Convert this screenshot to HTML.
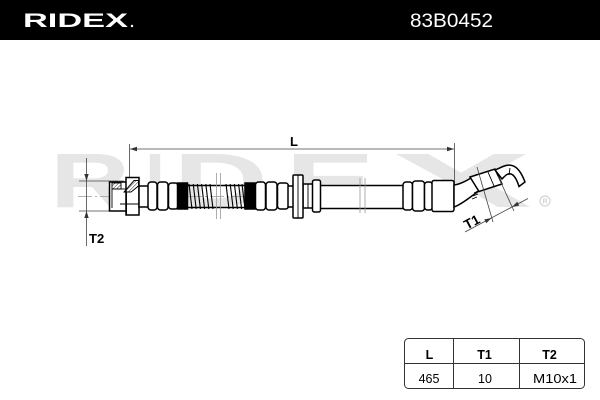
<!DOCTYPE html>
<html><head><meta charset="utf-8"><style>
html,body{margin:0;padding:0;background:#fff;}
svg{display:block}
</style></head><body>
<svg width="600" height="400" viewBox="0 0 600 400" xmlns="http://www.w3.org/2000/svg" font-family="Liberation Sans, Arial, sans-serif">
<defs>
<pattern id="h" width="2.6" height="2.6" patternUnits="userSpaceOnUse" patternTransform="rotate(45)"><line x1="0" y1="0" x2="0" y2="2.6" stroke="#000" stroke-width="0.8"/></pattern>
</defs>
<rect width="600" height="400" fill="#fff"/>
<!-- header -->
<rect width="600" height="40" fill="#000"/>
<text x="23" y="27" fill="#fff" font-size="19.5" font-weight="bold" textLength="105" lengthAdjust="spacingAndGlyphs">RIDEX</text>
<circle cx="132" cy="26" r="1.2" fill="#fff"/>
<text x="410" y="27" fill="#fff" font-size="19.5" textLength="83" lengthAdjust="spacingAndGlyphs">83B0452</text>

<!-- watermark -->
<g fill="#e6e6e6" font-size="77" font-weight="bold">
<text x="50" y="207" textLength="80" lengthAdjust="spacingAndGlyphs">R</text>
<text x="145" y="207" textLength="20" lengthAdjust="spacingAndGlyphs">I</text>
<text x="173" y="207" textLength="95" lengthAdjust="spacingAndGlyphs">D</text>
<text x="285" y="207" textLength="90" lengthAdjust="spacingAndGlyphs">E</text>
<text x="390" y="207" textLength="142" lengthAdjust="spacingAndGlyphs">X</text>
</g>
<circle cx="545" cy="201" r="5" fill="none" stroke="#d4d4d4" stroke-width="1.2"/>
<text x="545" y="203.5" font-size="7" fill="#d4d4d4" text-anchor="middle" font-weight="bold">R</text>

<!-- centerline -->
<line x1="78" y1="196.5" x2="455" y2="196.5" stroke="#999" stroke-width="0.7" stroke-dasharray="14 3 2 3"/>

<!-- L dimension -->
<g stroke="#444" stroke-width="0.8">
<line x1="129.5" y1="144" x2="129.5" y2="181"/>
<line x1="454.5" y1="143" x2="454.5" y2="184"/>
<line x1="130" y1="149" x2="454" y2="149"/>
<line x1="79" y1="181" x2="124" y2="181"/>
<line x1="79" y1="211" x2="110" y2="211"/>
<line x1="86.5" y1="158" x2="86.5" y2="246"/>
</g>
<path d="M130 149 l7 -2.2 v4.4z M454 149 l-7 -2.2 v4.4z M86.5 181 l-2.2 -7 h4.4z M86.5 211 l-2.2 7 h4.4z" fill="#333"/>
<text x="294" y="146" font-size="13" font-weight="bold" text-anchor="middle">L</text>
<text x="89" y="243" font-size="13" font-weight="bold">T2</text>

<!-- hose -->
<g stroke="#000" stroke-width="1.5" fill="#fff">
<line x1="186" y1="185.5" x2="247" y2="185.5"/>
<line x1="186" y1="207.5" x2="247" y2="207.5"/>
<rect x="318" y="185.5" width="87" height="23"/>
<rect x="109.5" y="182" width="17" height="29"/>
<rect x="126" y="177.5" width="13" height="37.5"/>
<rect x="139" y="186" width="10" height="21"/>
<rect x="148" y="182" width="9" height="28" rx="3"/>
<rect x="157.5" y="182" width="10.5" height="28" rx="3"/>
<rect x="168.5" y="183" width="9.5" height="26" rx="3"/>
<rect x="177.5" y="183" width="10" height="26" fill="#000"/>
<rect x="245" y="183" width="10" height="26" fill="#000"/>
<rect x="255.5" y="182" width="10" height="28" rx="3"/>
<rect x="266" y="182" width="11" height="28" rx="3"/>
<rect x="277.5" y="183" width="11" height="26" rx="3"/>
<rect x="288" y="186" width="6" height="21"/>
<rect x="303" y="184" width="10" height="24"/>
<rect x="293" y="175" width="10" height="43" rx="1"/>
<rect x="312.5" y="180" width="8" height="32" rx="2"/>
<rect x="403" y="182" width="9.5" height="28" rx="3"/>
<rect x="412.5" y="181" width="12" height="30" rx="3"/>
<rect x="424.5" y="182" width="8" height="28" rx="3"/>
<rect x="432" y="180.5" width="22" height="31" rx="2"/>
<path d="M454 185 C462 184 469 179 476 175 L482 189 C472 195 463 204 454 207 Z"/>
<path d="M470 177 L495 169 L502 184 L479 191.5 Z"/>
<path d="M495 170 C502 167 507 164 512 165.5 C518 167 522 174 525 182 L519 186.5 C517 180 514 175 511 174 C507 173 505 176 502 179 Z"/>
</g>
<g stroke="#000" stroke-width="0.9" fill="none">
<rect x="112" y="183" width="9" height="6" fill="url(#h)"/>
<polygon points="124,192 134,180.5 138.5,180.5 138.5,186 131,192" fill="url(#h)"/>
<line x1="112" y1="189" x2="112" y2="208"/>
<line x1="112" y1="189" x2="126" y2="189"/>
<line x1="120" y1="204" x2="139" y2="204"/>
<line x1="126.5" y1="192" x2="126.5" y2="215"/>
<line x1="298" y1="175" x2="298" y2="218"/>
<line x1="308" y1="184" x2="308" y2="208"/>
<line x1="474" y1="193" x2="478" y2="191"/>
<line x1="473" y1="196" x2="478" y2="194"/>
<line x1="472" y1="199" x2="477" y2="197"/>
<line x1="488" y1="172" x2="494" y2="186"/>
<line x1="510" y1="168" x2="509" y2="175"/>
</g>
<g stroke="#000" stroke-width="1.1">
<path d="M189 184 l3 25 M193.2 184 l3 25 M197.4 184 l3 25 M201.6 184 l3 25 M205.8 184 l3 25 M210 184 l3 25 M226 184 l3 25 M230.2 184 l3 25 M234.4 184 l3 25 M238.6 184 l3 25 M242 184 l3 25"/>
</g>
<g stroke="#999" stroke-width="0.8">
<line x1="216.5" y1="173" x2="216.5" y2="219"/>
<line x1="220.5" y1="173" x2="220.5" y2="219"/>
<line x1="360" y1="178" x2="360" y2="213"/>
<line x1="365" y1="178" x2="365" y2="213"/>
</g>

<!-- T1 dimension -->
<g stroke="#444" stroke-width="0.8">
<line x1="477" y1="167" x2="493" y2="222"/>
<line x1="498" y1="176" x2="514" y2="211"/>
<line x1="465" y1="232" x2="528" y2="198.5"/>
</g>
<path d="M491.5 218 L486.3 223.2 L484.3 219.4 Z M512 207 L519.2 205.6 L517.2 201.8 Z" fill="#333"/>
<text x="474" y="226" transform="rotate(-28 474 226)" text-anchor="middle" font-size="13.5" font-weight="bold">T1</text>

<!-- table -->
<g stroke="#333" stroke-width="1" fill="none">
<rect x="404.5" y="338.5" width="180" height="50" rx="4"/>
<line x1="404.5" y1="363.5" x2="584.5" y2="363.5"/>
<line x1="453.5" y1="338.5" x2="453.5" y2="388.5"/>
<line x1="519.5" y1="338.5" x2="519.5" y2="388.5"/>
</g>
<g font-size="12.5" text-anchor="middle" fill="#000">
<text x="429.5" y="359" font-weight="bold">L</text>
<text x="484.5" y="359" font-weight="bold">T1</text>
<text x="549.5" y="359" font-weight="bold">T2</text>
<text x="429" y="383">465</text>
<text x="485" y="383">10</text>
<text x="555" y="383" textLength="44" lengthAdjust="spacingAndGlyphs">M10x1</text>
</g>
</svg>
</body></html>
